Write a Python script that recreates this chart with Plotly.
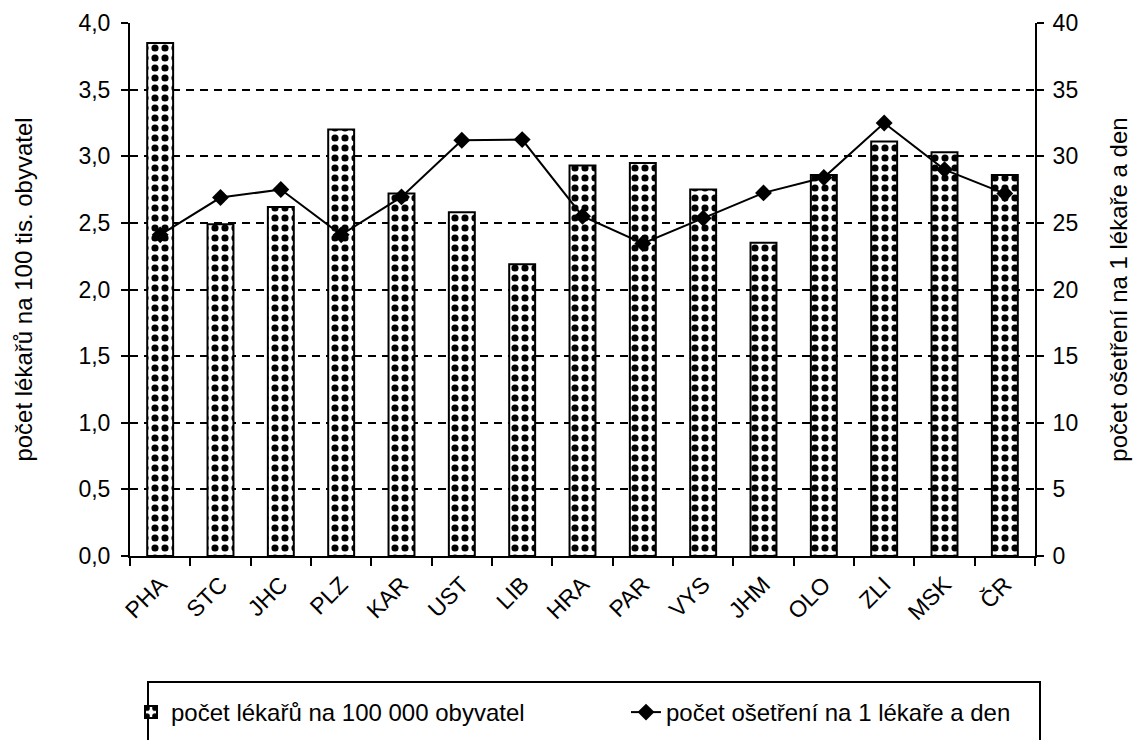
import plotly.graph_objects as go

categories = ["PHA", "STC", "JHC", "PLZ", "KAR", "UST", "LIB", "HRA", "PAR", "VYS", "JHM", "OLO", "ZLI", "MSK", "ČR"]
doctors_per_100k = [3.85, 2.49, 2.62, 3.20, 2.72, 2.58, 2.19, 2.93, 2.95, 2.75, 2.35, 2.86, 3.11, 3.03, 2.86]
treatments_per_doctor_day = [24.1, 26.9, 27.5, 24.1, 26.95, 31.2, 31.25, 25.5, 23.45, 25.35, 27.25, 28.4, 32.5, 29.0, 27.2]
left_ticks = [0, 0.5, 1.0, 1.5, 2.0, 2.5, 3.0, 3.5, 4.0]
right_ticks = [0, 5, 10, 15, 20, 25, 30, 35, 40]

FONT = "Liberation Sans, Arial, sans-serif"
W, H = 1142, 740
L, R, T, B = 130, 107, 23, 184
PW, PH = W - L - R, H - T - B


def px_x(x):
    return (x - L) / PW


def px_y(y):
    return (H - B - y) / PH


fig = go.Figure()
fig.add_trace(go.Bar(
    x=categories, y=doctors_per_100k,
    name="počet lékařů na 100 000 obyvatel",
    marker=dict(color="white",
                line=dict(color="black", width=2),
                pattern=dict(shape=".", fgcolor="black", bgcolor="white", size=10, solidity=0.4,
                             fillmode="replace", fgopacity=1)),
    width=0.43,
    yaxis="y",
    legend="legend",
))
fig.add_trace(go.Scatter(
    x=categories, y=treatments_per_doctor_day,
    name="počet ošetření na 1 lékaře a den",
    mode="lines+markers",
    line=dict(color="black", width=2),
    marker=dict(symbol="diamond", size=13, color="black"),
    yaxis="y2",
    legend="legend2",
))

tick_font = dict(family=FONT, size=23, color="black")
title_font = dict(family=FONT, size=24, color="black")
fig.update_layout(
    width=W, height=H,
    margin=dict(l=L, r=R, t=T, b=B, autoexpand=False),
    paper_bgcolor="white", plot_bgcolor="white",
    separators=", ",
    font=tick_font,
    xaxis=dict(
        type="category", range=[-0.5, len(categories) - 0.5], tickson="boundaries", ticks="outside",
        ticklen=8, tickwidth=2, tickcolor="black",
        showline=True, linecolor="black", linewidth=2, tickangle=-45, tickfont=tick_font,
        ticklabelstandoff=4,
        showgrid=False, zeroline=False, automargin=False,
    ),
    yaxis=dict(
        range=[0, 4], tickvals=left_ticks, tickformat=".1f", ticks="outside", ticklen=7, tickwidth=2,
        tickcolor="black", showline=True, linecolor="black", linewidth=2, showgrid=True,
        gridcolor="black", gridwidth=2, griddash="8px,6px", zeroline=False, tickfont=tick_font,
        ticklabelstandoff=6,
        title=dict(text="počet lékařů na 100 tis. obyvatel", font=title_font, standoff=39),
        automargin=False,
    ),
    yaxis2=dict(
        range=[0, 40], tickvals=right_ticks, overlaying="y", side="right", ticks="outside", ticklen=7,
        tickwidth=2, tickcolor="black", showline=True, linecolor="black", linewidth=2, showgrid=False,
        zeroline=False, tickfont=tick_font, ticklabelstandoff=4,
        title=dict(text="počet ošetření na 1 lékaře a den", font=title_font, standoff=33),
        automargin=False,
    ),
    showlegend=True,
    legend=dict(x=px_x(131), xanchor="left", y=px_y(690), yanchor="top",
                font=title_font, bgcolor="rgba(0,0,0,0)"),
    legend2=dict(x=px_x(626), xanchor="left", y=px_y(690), yanchor="top",
                 font=title_font, bgcolor="rgba(0,0,0,0)"),
    shapes=[dict(type="rect", xref="paper", yref="paper", x0=px_x(148), x1=px_x(1040),
                 y0=px_y(682), y1=px_y(800), line=dict(color="black", width=2),
                 fillcolor="rgba(0,0,0,0)", layer="below")],
)

fig.write_html("out.html", config={"displayModeBar": False},
               post_script="document.body.style.margin='0px';")
